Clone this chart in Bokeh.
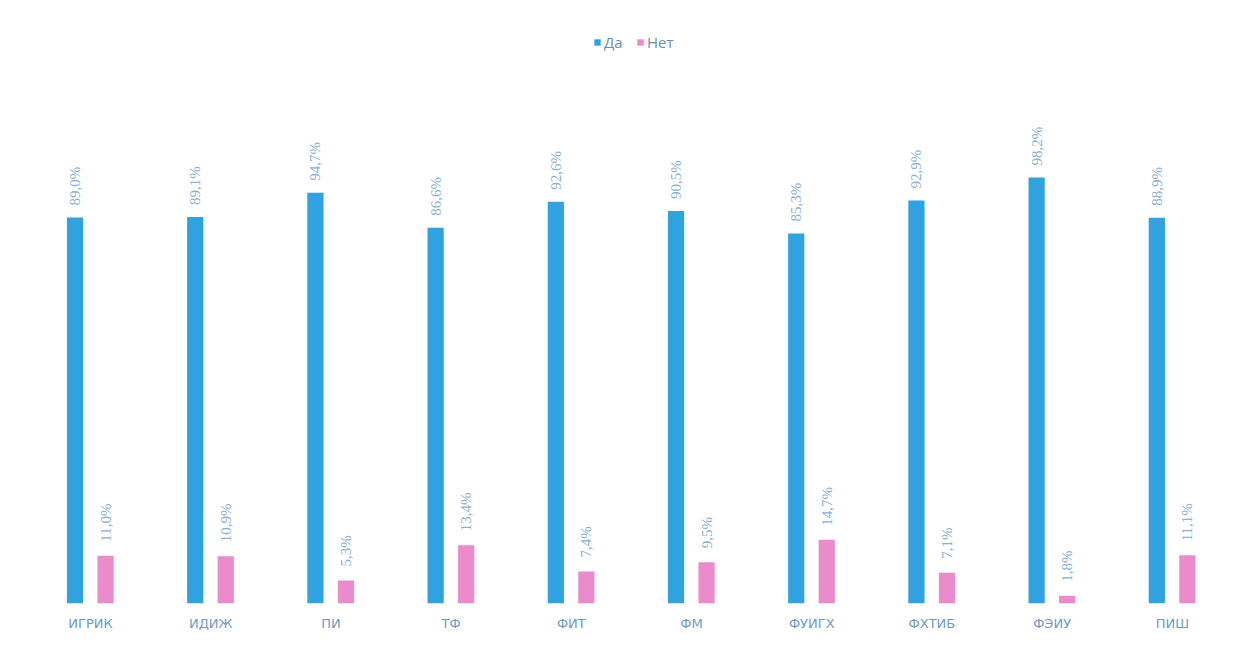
import numpy as np
from bokeh.plotting import figure
from bokeh.models import ColumnDataSource, Legend, LegendItem, FixedTicker
from bokeh.core.properties import value
from bokeh.embed import file_html
from bokeh.resources import INLINE

categories = ["ИГРИК", "ИДИЖ", "ПИ", "ТФ", "ФИТ", "ФМ", "ФУИГХ", "ФХТИБ", "ФЭИУ", "ПИШ"]
da = [89.0, 89.1, 94.7, 86.6, 92.6, 90.5, 85.3, 92.9, 98.2, 88.9]
net = [11.0, 10.9, 5.3, 13.4, 7.4, 9.5, 14.7, 7.1, 1.8, 11.1]

def fmt(v):
    return ("%.1f%%" % v).replace(".", ",")

idx = np.arange(len(categories))
BLUE = "#2fa2df"
PINK = "#ec8bcb"

src_da = ColumnDataSource(dict(x=idx - 0.129, top=da, lab=[fmt(v) for v in da]))
src_net = ColumnDataSource(dict(x=idx + 0.125, top=net, lab=[fmt(v) for v in net]))

W, H = 1227, 637
p = figure(width=W, height=H, output_backend="svg", toolbar_location=None,
           x_range=(-0.749, -0.749 + 10.208), y_range=(0, 139.0),
           min_border_left=0, min_border_right=0, min_border_top=0, min_border_bottom=34)
p.outline_line_color = None
p.xgrid.visible = False
p.ygrid.visible = False
p.yaxis.visible = False
p.background_fill_color = "white"

r1 = p.vbar(x="x", top="top", bottom=0, width=0.135, source=src_da, fill_color=BLUE, line_color=None)
r2 = p.vbar(x="x", top="top", bottom=0, width=0.135, source=src_net, fill_color=PINK, line_color=None)

for s, off in ((src_da, -12), (src_net, -14)):
    p.text(x="x", y="top", text="lab", source=s, angle=np.pi / 2, text_align="left",
           text_baseline="middle", x_offset=0, y_offset=off,
           text_font=value("Liberation Serif"), text_font_size="15px", text_color="#8cb1d6")

p.xaxis.ticker = FixedTicker(ticks=list(idx))
p.xaxis.major_label_overrides = {int(i): c for i, c in zip(idx, categories)}
p.xaxis.axis_line_color = None
p.xaxis.major_tick_line_color = None
p.xaxis.minor_tick_line_color = None
p.xaxis.major_tick_out = 0
p.xaxis.major_tick_in = 0
p.xaxis.minor_tick_out = 0
p.xaxis.major_label_standoff = 12
p.xaxis.major_label_text_font = "DejaVu Sans"
p.xaxis.major_label_text_font_size = "13px"
p.xaxis.major_label_text_color = "#7299c4"

legend = Legend(items=[LegendItem(label="Да", renderers=[r1]), LegendItem(label="Нет", renderers=[r2])],
                location=(593, 551), orientation="horizontal")
legend.border_line_color = None
legend.background_fill_alpha = 0
legend.glyph_width = 8
legend.glyph_height = 8
legend.label_text_font = "Open Sans"
legend.label_text_font_size = "15px"
legend.label_text_color = "#6b8cb3"
legend.label_standoff = 3
legend.spacing = 12
legend.margin = 0
legend.padding = 2
p.add_layout(legend)

open("out.html", "w").write(file_html(p, INLINE))
